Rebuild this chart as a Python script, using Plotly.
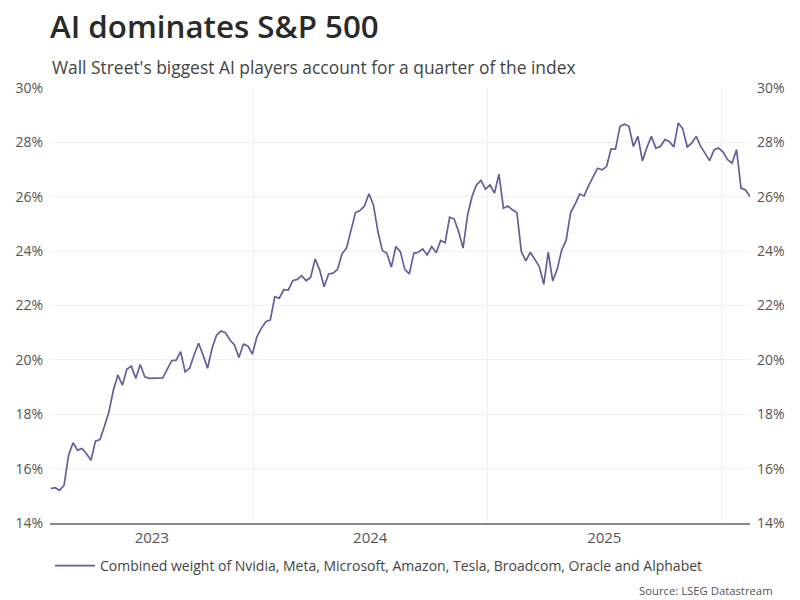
import pandas as pd
import plotly.graph_objects as go

# ---- data ----
START_DATE = "2023-02-19"          # first weekly observation
WEEKLY_WEIGHT = [
    15.27, 15.30, 15.20, 15.39, 16.49, 16.95, 16.68, 16.74, 16.55, 16.31,
    17.01, 17.07, 17.56, 18.09, 18.89, 19.44, 19.07, 19.65, 19.77, 19.32,
    19.83, 19.38, 19.32, 19.33, 19.35, 19.34, 19.65, 19.97, 19.99, 20.30,
    19.56, 19.69, 20.18, 20.61, 20.18, 19.69, 20.42, 20.91, 21.06, 21.00,
    20.73, 20.55, 20.09, 20.58, 20.51, 20.21, 20.85, 21.16, 21.40, 21.47,
    22.32, 22.27, 22.58, 22.57, 22.91, 22.96, 23.10, 22.91, 23.04, 23.71,
    23.31, 22.69, 23.16, 23.19, 23.33, 23.90, 24.11, 24.81, 25.42, 25.49,
    25.66, 26.11, 25.70, 24.72, 24.02, 23.92, 23.41, 24.17, 23.98, 23.33,
    23.16, 23.92, 23.96, 24.08, 23.86, 24.17, 23.94, 24.39, 24.31, 25.25,
    25.18, 24.72, 24.11, 25.33, 26.01, 26.44, 26.60, 26.28, 26.44, 26.13,
    26.83, 25.58, 25.66, 25.52, 25.42, 23.98, 23.64, 23.96, 23.71, 23.43,
    22.78, 23.96, 22.90, 23.34, 24.04, 24.41, 25.43, 25.73, 26.10, 26.03,
    26.41, 26.74, 27.05, 26.99, 27.11, 27.75, 27.75, 28.59, 28.67, 28.59,
    27.85, 28.22, 27.32, 27.81, 28.22, 27.79, 27.85, 28.10, 28.03, 27.83,
    28.71, 28.50, 27.83, 27.97, 28.22, 27.85, 27.61, 27.33, 27.73, 27.79,
    27.64, 27.36, 27.24, 27.73, 26.32, 26.25, 26.01,
]
YEAR_LABELS = ["2023", "2024", "2025"]
Y_TICKS = [14, 16, 18, 20, 22, 24, 26, 28, 30]
SERIES_NAME = ("Combined weight of Nvidia, Meta, Microsoft, Amazon, Tesla, "
               "Broadcom, Oracle and Alphabet")
TITLE = "AI dominates S&P 500"
SUBTITLE = "Wall Street's biggest AI players account for a quarter of the index"
SOURCE = "Source: LSEG Datastream"

dates = pd.date_range(START_DATE, periods=len(WEEKLY_WEIGHT), freq="7D")
x0, x1 = dates[0], dates[-1]

# year labels centred in the visible part of each year; grid at year starts
label_pos, grid_pos = [], []
for y in YEAR_LABELS:
    a = max(pd.Timestamp(f"{y}-01-01"), x0)
    b = min(pd.Timestamp(f"{int(y) + 1}-01-01"), x1)
    label_pos.append(a + (b - a) / 2)
    grid_pos.append(pd.Timestamp(f"{int(y) + 1}-01-01"))

LINE_COLOR = "#6a5b9c"
GRID = "#f0f0f0"
TXT = "#555555"
FONT = "Open Sans"

fig = go.Figure()
fig.add_trace(go.Scatter(
    x=dates, y=WEEKLY_WEIGHT, mode="lines", name=SERIES_NAME,
    line=dict(color=LINE_COLOR, width=1.7), showlegend=True,
))

fig.update_layout(
    width=800, height=600,
    margin=dict(l=50, r=50, t=88, b=77, autoexpand=False),
    paper_bgcolor="white", plot_bgcolor="white",
    font=dict(family=FONT, size=14, color=TXT),
    title=dict(text=TITLE, xref="container", x=50 / 800, xanchor="left",
               yref="container", y=1 - 27 / 600, yanchor="middle",
               automargin=False,
               font=dict(family=FONT, size=31.3, color="#2a2a2a", weight=600)),
    xaxis=dict(
        type="date", range=[x0 - pd.Timedelta(days=1), x1], automargin=False,
        tickvals=label_pos, ticktext=YEAR_LABELS, ticks="",
        showgrid=False, showline=True, linecolor="#8c8c8c", linewidth=1.5,
        tickfont=dict(size=15, color=TXT), zeroline=False,
        minor=dict(tickvals=grid_pos, showgrid=True, gridcolor=GRID,
                   gridwidth=1, ticks=""),
    ),
    yaxis=dict(
        range=[14, 30], tickvals=Y_TICKS, automargin=False,
        ticktext=[f"{v}%" for v in Y_TICKS], ticks="", ticklabelstandoff=6,
        showgrid=True, gridcolor=GRID, gridwidth=1, zeroline=False,
        tickfont=dict(size=14, color=TXT), showline=False,
    ),
    yaxis2=dict(
        range=[14, 30], tickvals=Y_TICKS, overlaying="y", side="right",
        ticktext=[f"{v}%" for v in Y_TICKS], ticks="", automargin=False,
        ticklabelstandoff=6,
        showgrid=False, zeroline=False, showline=False,
        tickfont=dict(size=14, color=TXT),
    ),
    showlegend=True,
    legend=dict(orientation="h", xref="container", yref="container",
                x=50 / 800, xanchor="left", y=1 - 566 / 600, yanchor="middle",
                itemwidth=40,
                font=dict(size=14, color="#444444"), bgcolor="rgba(0,0,0,0)"),
    annotations=[
        dict(text=SUBTITLE, xref="paper", yref="paper",
             x=(50 - 50) / 700, y=(523 - 67) / 435, xanchor="left",
             yanchor="middle", showarrow=False,
             font=dict(family=FONT, size=17.4, color="#444444")),
        dict(text=SOURCE, xref="paper", yref="paper",
             x=(775 - 50) / 700, y=(523 - 590) / 435, xanchor="right",
             yanchor="middle", showarrow=False,
             font=dict(family=FONT, size=11.3, color="#555555")),
    ],
)
# invisible companion trace so the right-hand axis is rendered
fig.add_trace(go.Scatter(x=[x0], y=[14], yaxis="y2", mode="markers",
                         marker=dict(opacity=0), showlegend=False,
                         hoverinfo="skip"))

fig.write_html("out.html",
               config={"displayModeBar": False},
               post_script="document.body.style.margin='0';")
